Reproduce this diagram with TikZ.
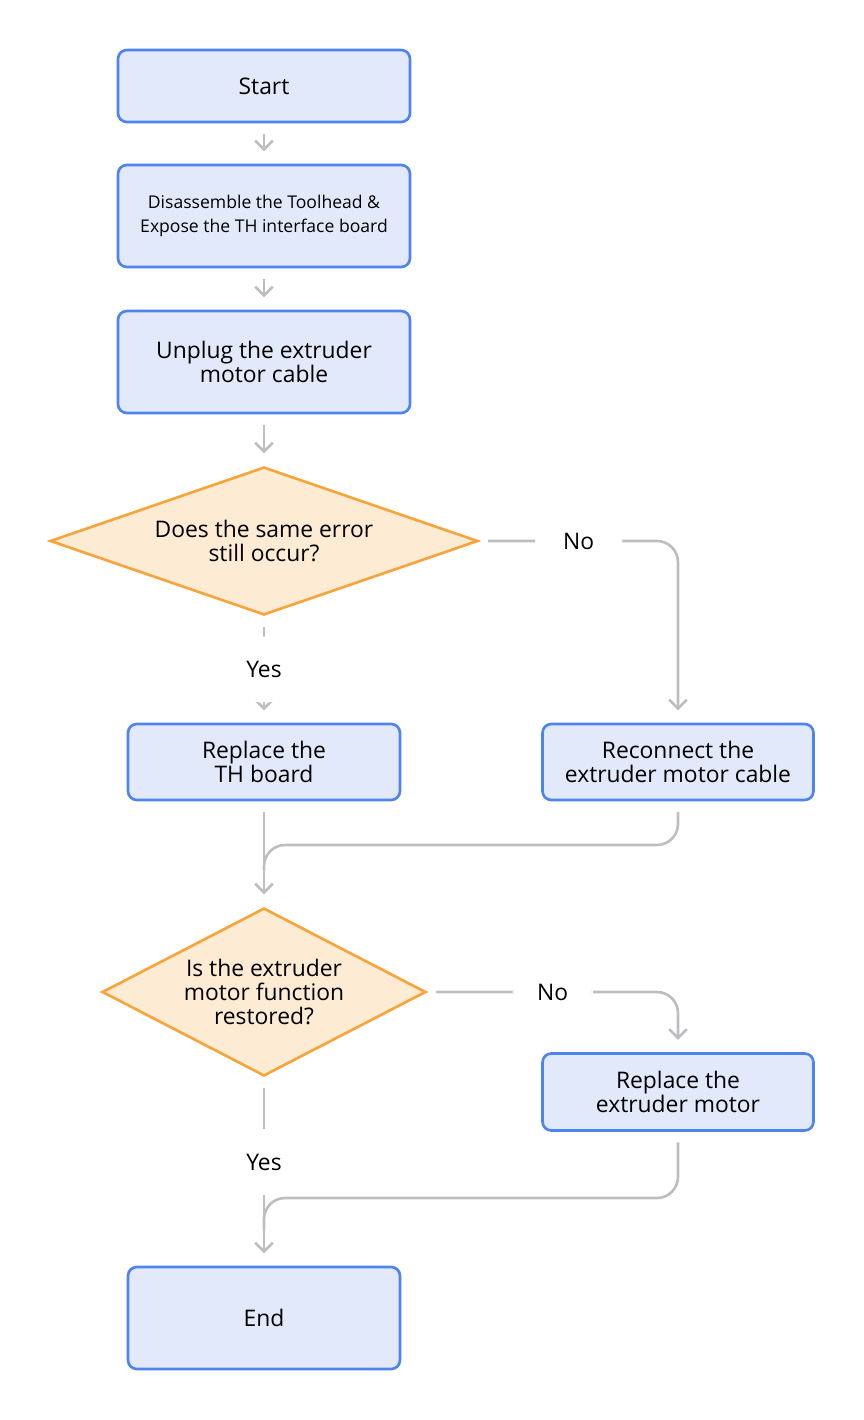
\documentclass[tikz,border=0pt]{standalone}
\usepackage{fontspec}
\setmainfont{Open Sans}
\usetikzlibrary{shapes.geometric,arrows.meta}
\definecolor{boxfill}{HTML}{E1E9FB}
\definecolor{boxline}{HTML}{4F83F0}
\definecolor{askfill}{HTML}{FDEBD3}
\definecolor{askline}{HTML}{F7A43B}
\definecolor{wire}{HTML}{BDBEC2}
\begin{document}
\begin{tikzpicture}[
  x=0.02cm, y=-0.02cm,
  stepbox/.style={rectangle, draw=boxline, fill=boxfill, line width=1.5pt, rounded corners=5pt,
    align=center, font=\fontsize{13}{13.5}\selectfont},
  askbox/.style={diamond, draw=askline, fill=askfill, line width=1.5pt, inner sep=0pt,
    aspect=2.9, align=center, font=\fontsize{13}{13.5}\selectfont},
  flow/.style={draw=wire, line width=1.5pt, -{Straight Barb[length=5pt,width=10pt]}, rounded corners=12pt},
  wireline/.style={draw=wire, line width=1.5pt, rounded corners=12pt},
  tag/.style={fill=white, font=\fontsize{13}{13.5}\selectfont, inner sep=4pt}
]
\useasboundingbox (0,0) rectangle (864,1420);

% Boxes
\node[stepbox, minimum width=5.84cm, minimum height=1.44cm] (start) at (264,86) {Start};
\node[stepbox, minimum width=5.84cm, minimum height=2.04cm, font=\fontsize{10}{14}\selectfont] (open) at (264,216)
  {Disassemble the Toolhead \&\\Expose the TH interface board};
\node[stepbox, minimum width=5.84cm, minimum height=2.04cm] (unplug) at (264,362) {Unplug the extruder\\motor cable};
\node[askbox, minimum width=8.56cm, minimum height=2.96cm] (same) at (264,541) {Does the same error\\still occur?};
\node[stepbox, minimum width=5.44cm, minimum height=1.52cm] (thboard) at (264,762) {Replace the\\TH board};
\node[stepbox, minimum width=5.42cm, minimum height=1.52cm] (reconnect) at (678,762) {Reconnect the\\extruder motor cable};
\node[askbox, minimum width=6.48cm, minimum height=3.36cm, aspect=1.9] (works) at (264,992) {Is the extruder\\motor function\\restored?};
\node[stepbox, minimum width=5.42cm, minimum height=1.54cm] (motor) at (678,1092) {Replace the\\extruder motor};
\node[stepbox, minimum width=5.44cm, minimum height=2.04cm] (finish) at (264,1318) {End};

\coordinate (join1) at (264,845);
\coordinate (join2) at (264,1198);

% Connectors
\draw[flow, shorten <=6pt, shorten >=7pt] (start) -- (open);
\draw[flow, shorten <=6pt, shorten >=7pt] (open) -- (unplug);
\draw[flow, shorten <=6pt, shorten >=7pt] (unplug) -- (same);
\draw[flow, shorten <=6pt, shorten >=7pt] (same.south) -- node[tag, inner ysep=14pt] {Yes} (thboard.north);
\draw[flow, shorten <=5pt, shorten >=7pt] (same.east) -- node[tag, inner xsep=16pt] {No} (678,541) -- (reconnect.north);
\draw[flow, shorten <=6pt, shorten >=7pt] (thboard.south) -- (works.north);
\draw[wireline, shorten <=6pt] (reconnect.south) |- (join1) -- (264,870);
\draw[flow, shorten <=5pt, shorten >=7pt] (works.east) -- node[tag, inner xsep=14pt] {No} (678,992) -- (motor.north);
\draw[flow, shorten <=6pt, shorten >=7pt] (works.south) -- node[tag, inner ysep=14pt, pos=0.45] {Yes} (finish.north);
\draw[wireline, shorten <=6pt] (motor.south) |- (join2) -- (264,1230);
\end{tikzpicture}
\end{document}
